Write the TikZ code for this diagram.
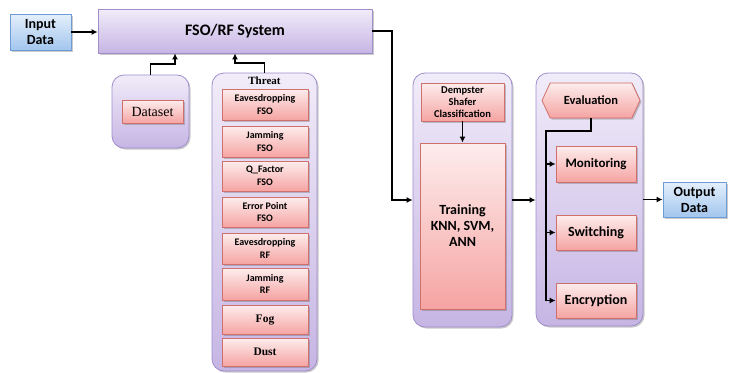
\documentclass[tikz,border=0pt]{standalone}
\usepackage{fontspec}
\setmainfont{Liberation Serif}
\newfontfamily\carl{Carlito}
\usetikzlibrary{arrows.meta,shadows,shapes.symbols}
\definecolor{contT}{HTML}{F1ECF9}
\definecolor{contBot}{HTML}{C6B5E4}
\definecolor{contB}{HTML}{A08DCB}
\definecolor{pinkT}{HTML}{FDEDED}
\definecolor{pinkBot}{HTML}{F5A4A2}
\definecolor{pinkB}{HTML}{D0706D}
\definecolor{blueT}{HTML}{E4EFFB}
\definecolor{blueBot}{HTML}{A3C6EE}
\definecolor{blueB}{HTML}{6E9CD6}
\begin{document}
\begin{tikzpicture}[x=1pt,y=-1pt,
  shad/.style={drop shadow={shadow xshift=1.5pt,shadow yshift=-1.5pt,opacity=0.35,fill=black!60}},
  cont/.style={draw=contB, line width=0.8pt, rounded corners=12pt, top color=contT, bottom color=contBot, shad},
  fsobox/.style={draw=contB, line width=0.8pt, top color=contT, bottom color=contBot, shad, font=\carl\bfseries\fontsize{16}{18}\selectfont},
  pinkbox/.style={draw=pinkB, line width=0.8pt, top color=pinkT, bottom color=pinkBot, shad, align=center, inner sep=1pt},
  bluebox/.style={draw=blueB, line width=0.8pt, top color=blueT, bottom color=blueBot, shad, align=center, inner sep=1pt, font=\carl\bfseries\fontsize{14}{16}\selectfont},
  thbox/.style={pinkbox, minimum width=86pt, font=\carl\bfseries\fontsize{10}{12.5}\selectfont},
  conn/.style={line width=1.8pt, black},
  arr/.style={conn, -{Latex[length=6pt,width=6pt]}},
]
\useasboundingbox (0,0) rectangle (735,372);
% input / system
\node[bluebox, minimum width=61pt, minimum height=36pt] (inp) at (40.5,32) {Input\\Data};
\node[fsobox, minimum width=274pt, minimum height=44pt] (fso) at (235,31) {FSO/RF System};
% dataset
\node[cont, minimum width=77pt, minimum height=73pt] (dsc) at (150.5,111.5) {};
\node[pinkbox, font=\fontsize{14}{16}\selectfont, minimum width=61pt, minimum height=23pt] (ds) at (152.5,111.5) {Dataset};
% threat
\node[cont, minimum width=105pt, minimum height=298pt] (thc) at (264.5,222) {};
\node[font=\bfseries\fontsize{11}{13}\selectfont, inner sep=0pt] (thl) at (264.5,81) {Threat};
\node[thbox, minimum height=31pt] (t1) at (265,104.5) {Eavesdropping\\FSO};
\node[thbox, minimum height=31pt] (t2) at (265,141.5) {Jamming\\FSO};
\node[thbox, minimum height=30pt] (t3) at (265,176) {Q\_Factor\\FSO};
\node[thbox, minimum height=30pt] (t4) at (265,212) {Error Point\\FSO};
\node[thbox, minimum height=31pt] (t5) at (265,248.5) {Eavesdropping\\RF};
\node[thbox, minimum height=32pt] (t6) at (265,284) {Jamming\\RF};
\node[thbox, minimum height=29pt, font=\bfseries\fontsize{11.5}{13}\selectfont] (t7) at (265,319.5) {Fog};
\node[thbox, minimum height=28pt, font=\bfseries\fontsize{11.5}{13}\selectfont] (t8) at (265,352) {Dust};
% training
\node[cont, minimum width=99pt, minimum height=254pt] (trc) at (462.5,200) {};
\node[pinkbox, minimum width=83pt, minimum height=38pt, font=\carl\bfseries\fontsize{10.5}{11.7}\selectfont] (dem) at (462.5,102) {Dempster\\Shafer\\Classification};
\node[pinkbox, minimum width=85pt, minimum height=166pt, font=\carl\bfseries\fontsize{14}{16}\selectfont] (trn) at (462.5,226) {Training\\KNN, SVM,\\ANN};
% evaluation
\node[cont, minimum width=107pt, minimum height=253pt] (evc) at (589.5,199.5) {};
\node[pinkbox, shape=signal, signal to=west and east, signal pointer angle=130, minimum width=98pt, minimum height=35pt, font=\carl\bfseries\fontsize{12.5}{14}\selectfont] (ev) at (591,100.5) {Evaluation};
\node[pinkbox, minimum width=80pt, minimum height=36pt, font=\carl\bfseries\fontsize{13}{15}\selectfont] (mon) at (596,164) {Monitoring};
\node[pinkbox, minimum width=80pt, minimum height=35pt, font=\carl\bfseries\fontsize{14}{16}\selectfont] (sw) at (596,232.5) {Switching};
\node[pinkbox, minimum width=80pt, minimum height=35pt, font=\carl\bfseries\fontsize{14}{16}\selectfont] (enc) at (596,300.5) {Encryption};
% output
\node[bluebox, minimum width=63pt, minimum height=35pt] (out) at (694.5,199.5) {Output\\Data};
% connectors
\coordinate (dsbend) at (175,64);
\coordinate (thbend) at (235,63);
\coordinate (fturn) at (392,200);
\coordinate (ebend) at (546,131);
\draw[arr] (inp.east) -- (inp.east -| fso.west);
\draw[arr] (dsc.north) |- (dsbend) -- (dsbend |- fso.south);
\draw[arr] (thc.north) |- (thbend) -- (thbend |- fso.south);
\draw[arr] (fso.east) -| (fturn) -- (trc.west);
\draw[arr] (dem.south) -- (trn.north);
\draw[arr] (trc.east) -- (trc.east -| evc.west);
\draw[arr] (evc.east) -- (out.west);
\draw[arr] (ev.south) |- (ebend) |- (enc.west);
\draw[arr] (ebend |- mon.west) -- (mon.west);
\draw[arr] (ebend |- sw.west) -- (sw.west);
\end{tikzpicture}
\end{document}
